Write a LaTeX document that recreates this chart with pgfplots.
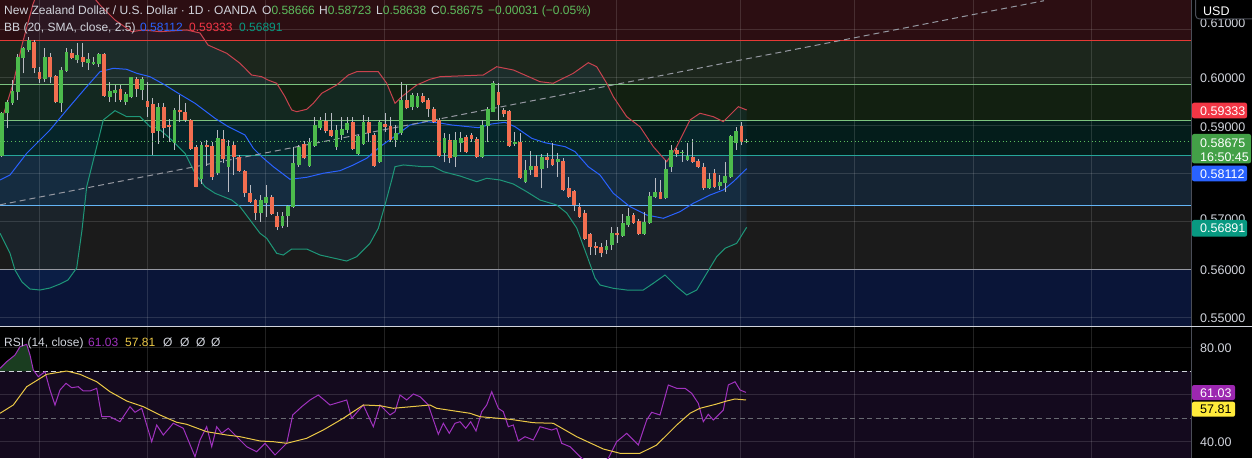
\documentclass[border=0pt]{standalone}
\usepackage{fontspec}
\setmainfont{Liberation Sans}
\usepackage{pgfplots}
\pgfplotsset{compat=1.18}
\usepackage{pgfplotstable}
\definecolor{zoneA}{HTML}{2C0E12}
\definecolor{zoneB}{HTML}{1C261C}
\definecolor{zoneC}{HTML}{122011}
\definecolor{zoneD}{HTML}{041D1B}
\definecolor{zoneE}{HTML}{152433}
\definecolor{zoneF}{HTML}{1B1B1B}
\definecolor{zoneG}{HTML}{0A1538}
\definecolor{rsibg}{HTML}{140A1E}
\definecolor{lnred}{HTML}{E53935}
\definecolor{lngreen}{HTML}{7CC47F}
\definecolor{lnteal}{HTML}{26A69A}
\definecolor{lnblue}{HTML}{64B5F6}
\definecolor{lngray}{HTML}{9598A1}
\definecolor{cgreen}{HTML}{4CBB4C}
\definecolor{cred}{HTML}{F26E50}
\definecolor{wick}{HTML}{B8BBC2}
\definecolor{bbup}{HTML}{C8424E}
\definecolor{bbmid}{HTML}{2962FF}
\definecolor{bblo}{HTML}{1E9678}
\definecolor{bbfill}{HTML}{2196F3}
\definecolor{lg}{HTML}{D1D4DC}
\definecolor{valg}{HTML}{5DBD5D}
\definecolor{boxred}{HTML}{F23645}
\definecolor{boxgreen}{HTML}{43A047}
\definecolor{boxblue}{HTML}{2962FF}
\definecolor{boxteal}{HTML}{089981}
\definecolor{boxpurple}{HTML}{9C27B0}
\definecolor{boxyellow}{HTML}{FFEB3B}
\definecolor{rsiline}{HTML}{A032BE}
\definecolor{rsima}{HTML}{EBC846}
\definecolor{obfill}{HTML}{1A3D20}
\definecolor{sep}{HTML}{4A4D57}

\pgfplotstableread{
I O H L C
0 0.58375 0.59298 0.58360 0.59265
1 0.59265 0.59542 0.58952 0.59506
2 0.59473 0.59958 0.59438 0.59735
3 0.59715 0.60494 0.59542 0.60444
4 0.60410 0.60652 0.60098 0.60619
5 0.60583 0.60860 0.60548 0.60792
8 0.59973 0.60619 0.59923 0.60444
11 0.59473 0.60235 0.59298 0.60167
12 0.60152 0.60619 0.60131 0.60548
14 0.60375 0.60723 0.60306 0.60479
16 0.60319 0.60515 0.60167 0.60390
17 0.60285 0.60444 0.60271 0.60340
18 0.60292 0.60515 0.60235 0.60494
20 0.59610 0.59923 0.59506 0.59729
21 0.59681 0.59854 0.59506 0.59750
23 0.59494 0.59715 0.59438 0.59667
24 0.59598 0.60027 0.59577 0.60015
26 0.59750 0.60015 0.59542 0.59973
29 0.58902 0.59485 0.58625 0.59402
32 0.58652 0.59369 0.58500 0.59333
37 0.57890 0.58673 0.57792 0.58604
40 0.58015 0.58917 0.57979 0.58744
42 0.58152 0.58708 0.57631 0.58583
48 0.57181 0.57563 0.57006 0.57458
49 0.57402 0.57771 0.57110 0.57527
52 0.56917 0.57215 0.56869 0.57125
53 0.57125 0.57354 0.56902 0.57333
54 0.57319 0.58569 0.57285 0.58223
55 0.58188 0.58604 0.58152 0.58569
57 0.58167 0.58744 0.58152 0.58673
58 0.58583 0.59194 0.58569 0.59021
59 0.58952 0.59194 0.58917 0.59125
62 0.58569 0.59021 0.58500 0.58917
63 0.58813 0.59194 0.58708 0.58938
64 0.58917 0.59194 0.58848 0.59056
66 0.58417 0.58813 0.58396 0.58792
67 0.58625 0.59229 0.58604 0.59090
70 0.58244 0.59125 0.58223 0.59090
73 0.58708 0.59021 0.58569 0.58860
74 0.58848 0.59923 0.58813 0.59542
76 0.59402 0.59681 0.59333 0.59646
77 0.59390 0.59681 0.59369 0.59625
82 0.58431 0.58848 0.58244 0.58756
84 0.58360 0.58869 0.58152 0.58708
85 0.58652 0.58869 0.58452 0.58744
89 0.58354 0.59125 0.58327 0.59021
90 0.59006 0.59402 0.58673 0.59348
91 0.59298 0.59938 0.59285 0.59890
95 0.58619 0.58881 0.58590 0.58660
97 0.57827 0.58292 0.57806 0.58083
98 0.58083 0.58479 0.57979 0.58173
100 0.58098 0.58410 0.57702 0.58360
103 0.58244 0.58431 0.57944 0.58313
112 0.56417 0.56625 0.56333 0.56500
113 0.56521 0.56902 0.56417 0.56777
115 0.56708 0.57167 0.56694 0.56985
116 0.56938 0.57285 0.56902 0.57125
119 0.56750 0.57215 0.56729 0.56994
120 0.56973 0.57631 0.56958 0.57542
121 0.57527 0.57910 0.57494 0.57625
123 0.57494 0.58292 0.57473 0.58098
124 0.58152 0.58604 0.58048 0.58500
126 0.58431 0.58500 0.58256 0.58465
127 0.58292 0.58640 0.58277 0.58375
131 0.57702 0.58015 0.57681 0.57890
133 0.57750 0.57979 0.57667 0.57840
134 0.57819 0.58256 0.57631 0.57958
135 0.57931 0.58813 0.57910 0.58792
136 0.58640 0.58985 0.58500 0.58902
138 0.58666 0.58723 0.58638 0.58675
}\greentab

\pgfplotstableread{
I O H L C
6 0.60756 0.60792 0.60098 0.60202
7 0.60131 0.60235 0.59890 0.59973
9 0.60431 0.60515 0.59890 0.60015
10 0.60042 0.60063 0.59473 0.59494
13 0.60527 0.60598 0.60390 0.60423
15 0.60431 0.60735 0.60235 0.60340
19 0.60500 0.60527 0.59610 0.59625
22 0.59765 0.59854 0.59506 0.59542
25 0.59979 0.60015 0.59610 0.59777
27 0.59527 0.59923 0.59194 0.59390
28 0.59452 0.59577 0.58396 0.58860
30 0.59390 0.59473 0.58744 0.58952
31 0.59021 0.59140 0.58673 0.58985
33 0.59333 0.59646 0.59090 0.59285
34 0.59298 0.59485 0.59090 0.59125
35 0.59125 0.59140 0.58500 0.58521
36 0.58556 0.58604 0.57723 0.57735
38 0.58604 0.58708 0.58167 0.58569
39 0.58583 0.58673 0.57875 0.57931
41 0.58723 0.58917 0.58223 0.58306
43 0.58604 0.58673 0.57979 0.58348
44 0.58348 0.58396 0.58048 0.58063
45 0.58063 0.58083 0.57527 0.57598
46 0.57598 0.57771 0.57390 0.57423
47 0.57458 0.57473 0.57042 0.57194
50 0.57527 0.57563 0.57146 0.57167
51 0.57125 0.57215 0.56833 0.56890
56 0.58625 0.58694 0.58306 0.58327
60 0.59110 0.59265 0.58848 0.58902
61 0.58917 0.59277 0.58777 0.58798
65 0.59077 0.59194 0.58500 0.58521
68 0.59077 0.59194 0.58673 0.58848
69 0.58813 0.58848 0.58152 0.58173
71 0.59042 0.59265 0.58881 0.58973
72 0.59000 0.59194 0.58673 0.58708
75 0.59542 0.59854 0.59348 0.59369
78 0.59625 0.59681 0.59473 0.59506
79 0.59542 0.59577 0.59194 0.59348
80 0.59348 0.59396 0.59063 0.59090
81 0.59125 0.59167 0.58354 0.58381
83 0.58708 0.58827 0.58223 0.58340
86 0.58777 0.58813 0.58431 0.58465
87 0.58813 0.58848 0.58673 0.58723
88 0.58729 0.58777 0.58327 0.58360
92 0.59702 0.59890 0.59125 0.59438
93 0.59333 0.59369 0.59194 0.59244
94 0.59313 0.59333 0.58569 0.58583
96 0.58660 0.58848 0.57896 0.57923
99 0.58173 0.58396 0.57927 0.57944
101 0.58360 0.58431 0.58119 0.58292
102 0.58313 0.58640 0.58173 0.58188
104 0.58271 0.58327 0.57646 0.57667
105 0.57715 0.57944 0.57506 0.57527
106 0.57646 0.57667 0.57229 0.57354
107 0.57319 0.57390 0.57090 0.57110
108 0.57188 0.57250 0.56625 0.56646
109 0.56750 0.56765 0.56313 0.56485
110 0.56500 0.56590 0.56313 0.56452
111 0.56485 0.56569 0.56265 0.56360
114 0.56765 0.56902 0.56569 0.56723
117 0.57140 0.57177 0.56958 0.56985
118 0.57021 0.57056 0.56729 0.56750
122 0.57625 0.57875 0.57473 0.57485
125 0.58500 0.58535 0.58360 0.58417
128 0.58360 0.58723 0.58235 0.58256
129 0.58271 0.58306 0.58119 0.58152
130 0.58152 0.58223 0.57667 0.57702
132 0.58015 0.58098 0.57702 0.57723
137 0.59000 0.59090 0.58604 0.58666
}\redtab

\begin{document}
\begin{tikzpicture}[x=1pt,y=1pt]
\path[use as bounding box, fill=black] (0,0) rectangle (1252,458);
% price zones
\fill[zoneA] (0,416.7) rectangle (1191,458);
\fill[zoneB] (0,373.7) rectangle (1191,416.7);
\fill[zoneC] (0,337.7) rectangle (1191,373.7);
\fill[zoneD] (0,302.7) rectangle (1191,337.7);
\fill[zoneE] (0,252.7) rectangle (1191,302.7);
\fill[zoneF] (0,188.7) rectangle (1191,252.7);
\fill[zoneG] (0,132) rectangle (1191,188.7);
% rsi band background
\fill[rsibg] (0,0) rectangle (1191,86.7);

\begin{axis}[
  at={(0pt,132pt)}, anchor=south west, scale only axis,
  width=1191pt, height=326pt,
  xmin=0, xmax=1191, ymin=0.548333, ymax=0.61625,
  axis line style={draw=none}, tick style={draw=none}, major tick length=0pt,
  xtick={39.3,147.7,265,384.3,498.3,616.7,740.7,854.3,973.3,1091.7},
  ytick={0.55,0.56,0.57,0.58,0.59,0.60,0.61},
  xticklabels={}, yticklabels={}, scaled y ticks=false,
  grid=major, major grid style={draw=white, draw opacity=0.13, line width=1pt},
  clip=true,
]
% Bollinger band background
\addplot[fill=bbfill, fill opacity=0.07, draw=none, forget plot] coordinates {
(1.7,0.59125)(8,0.59542)(13.3,0.59896)(22,0.60687)(33,0.61540)(34.9,0.61625)(95.2,0.61625)(100,0.61520)(115,0.61208)(131.7,0.60965)(143,0.61000)(160,0.60965)(186.7,0.61000)(200,0.60937)(208,0.60687)(226.7,0.60515)(240,0.60306)(245,0.60202)(251.7,0.60062)(261.7,0.60027)(268,0.59958)(276.7,0.59890)(285,0.59610)(291.7,0.59333)(296.7,0.59298)(306.7,0.59348)(313.3,0.59473)(321.7,0.59681)(336.7,0.59854)(348.3,0.60062)(356.7,0.60131)(378.3,0.60131)(386.7,0.59890)(395,0.59473)(401.7,0.59610)(416.7,0.59854)(430,0.59973)(440,0.60027)(483.3,0.60062)(496.7,0.60235)(513.3,0.60167)(540,0.59923)(553.3,0.59890)(573.3,0.60098)(588.3,0.60319)(596.7,0.60235)(606.7,0.59890)(613.3,0.59610)(626.7,0.59194)(640,0.58985)(653.3,0.58569)(666.7,0.58256)(676.7,0.58569)(690,0.59125)(700,0.59265)(713.3,0.59194)(723.3,0.59090)(730,0.59229)(738.3,0.59402)(746.7,0.59333)
(746.7,0.56891)(736.7,0.56556)(725,0.56452)(716.7,0.56277)(706.7,0.55931)(696.7,0.55583)(686.7,0.55479)(676.7,0.55652)(665,0.55896)(653.3,0.55723)(643.3,0.55583)(626.7,0.55583)(613.3,0.55619)(600,0.55687)(595,0.55833)(586.7,0.56312)(576.7,0.56875)(566.7,0.57187)(556.7,0.57354)(540,0.57458)(526.7,0.57631)(513.3,0.57792)(500,0.57875)(486.7,0.57910)(476.7,0.57840)(460,0.57958)(443.3,0.58048)(433.3,0.58152)(423.3,0.58152)(403.3,0.58188)(395,0.58152)(391.7,0.57875)(385,0.57354)(378.3,0.56869)(370,0.56556)(356.7,0.56277)(346.7,0.56187)(320,0.56312)(306.7,0.56437)(291.7,0.56437)(283.3,0.56312)(276.7,0.56348)(266.7,0.56660)(260,0.56765)(250,0.57042)(240,0.57319)(231.7,0.57458)(215,0.57598)(205,0.57735)(195,0.58015)(185,0.58431)(171.7,0.58708)(158.3,0.58952)(150,0.58985)(140,0.59194)(126.7,0.59194)(115,0.59319)(103.3,0.59125)(96.7,0.58569)(86.7,0.57735)(82,0.56833)(76.7,0.56042)(68,0.55792)(60,0.55708)(50,0.55625)(40,0.55583)(30,0.55604)(22,0.55750)(15,0.56000)(10,0.56348)(0,0.56765)(0,0.59000)};

% zone lines
\draw[lnred, line width=1pt] (0,0.60771) -- (1191,0.60771);
\draw[lngreen, line width=1pt] (0,0.59869) -- (1191,0.59869);
\draw[lngreen, line width=1pt] (0,0.59119) -- (1191,0.59119);
\draw[lnteal, line width=1pt] (0,0.58390) -- (1191,0.58390);
\draw[lnblue, line width=1pt] (0,0.57348) -- (1191,0.57348);
\draw[lngray, line width=1pt] (0,0.56015) -- (1191,0.56015);

% Bollinger bands
\addplot[bbup, line width=1pt, forget plot] coordinates {
(1.7,0.59125)(8,0.59542)(13.3,0.59896)(22,0.60687)(33,0.61540)(34.9,0.61640)(95.2,0.61640)(100,0.61520)(115,0.61208)(131.7,0.60965)(143,0.61000)(160,0.60965)(186.7,0.61000)(200,0.60937)(208,0.60687)(226.7,0.60515)(240,0.60306)(245,0.60202)(251.7,0.60062)(261.7,0.60027)(268,0.59958)(276.7,0.59890)(285,0.59610)(291.7,0.59333)(296.7,0.59298)(306.7,0.59348)(313.3,0.59473)(321.7,0.59681)(336.7,0.59854)(348.3,0.60062)(356.7,0.60131)(378.3,0.60131)(386.7,0.59890)(395,0.59473)(401.7,0.59610)(416.7,0.59854)(430,0.59973)(440,0.60027)(483.3,0.60062)(496.7,0.60235)(513.3,0.60167)(540,0.59923)(553.3,0.59890)(573.3,0.60098)(588.3,0.60319)(596.7,0.60235)(606.7,0.59890)(613.3,0.59610)(626.7,0.59194)(640,0.58985)(653.3,0.58569)(666.7,0.58256)(676.7,0.58569)(690,0.59125)(700,0.59265)(713.3,0.59194)(723.3,0.59090)(730,0.59229)(738.3,0.59402)(746.7,0.59333)};
\addplot[bblo, line width=1pt, forget plot] coordinates {
(0,0.56765)(10,0.56348)(15,0.56000)(22,0.55750)(30,0.55604)(40,0.55583)(50,0.55625)(60,0.55708)(68,0.55792)(76.7,0.56042)(82,0.56833)(86.7,0.57735)(96.7,0.58569)(103.3,0.59125)(115,0.59319)(126.7,0.59194)(140,0.59194)(150,0.58985)(158.3,0.58952)(171.7,0.58708)(185,0.58431)(195,0.58015)(205,0.57735)(215,0.57598)(231.7,0.57458)(240,0.57319)(250,0.57042)(260,0.56765)(266.7,0.56660)(276.7,0.56348)(283.3,0.56312)(291.7,0.56437)(306.7,0.56437)(320,0.56312)(346.7,0.56187)(356.7,0.56277)(370,0.56556)(378.3,0.56869)(385,0.57354)(391.7,0.57875)(395,0.58152)(403.3,0.58188)(423.3,0.58152)(433.3,0.58152)(443.3,0.58048)(460,0.57958)(476.7,0.57840)(486.7,0.57910)(500,0.57875)(513.3,0.57792)(526.7,0.57631)(540,0.57458)(556.7,0.57354)(566.7,0.57187)(576.7,0.56875)(586.7,0.56312)(595,0.55833)(600,0.55687)(613.3,0.55619)(626.7,0.55583)(643.3,0.55583)(653.3,0.55723)(665,0.55896)(676.7,0.55652)(686.7,0.55479)(696.7,0.55583)(706.7,0.55931)(716.7,0.56277)(725,0.56452)(736.7,0.56556)(746.7,0.56891)};
\addplot[bbmid, line width=1pt, forget plot] coordinates {
(0,0.57875)(10,0.57979)(26.7,0.58431)(50,0.58917)(66.7,0.59333)(86.7,0.59819)(100,0.60131)(113.3,0.60202)(126.7,0.60181)(136.7,0.60098)(150,0.60027)(165,0.59854)(178.3,0.59681)(195,0.59473)(215,0.59160)(228.3,0.58985)(245,0.58812)(253.3,0.58535)(261.7,0.58360)(273.3,0.58152)(290,0.57890)(306.7,0.57931)(323.3,0.58015)(340,0.58069)(353.3,0.58187)(366.7,0.58327)(380,0.58569)(396.7,0.58813)(410,0.59021)(426.7,0.59090)(440,0.59062)(451.7,0.59021)(478.3,0.58965)(491.7,0.59042)(505,0.59077)(515,0.58985)(531.7,0.58744)(545,0.58652)(565,0.58569)(575,0.58465)(588.3,0.58152)(600,0.57979)(613.3,0.57598)(630,0.57319)(646.7,0.57146)(663.3,0.57077)(680,0.57215)(693.3,0.57390)(710,0.57562)(723.3,0.57667)(733.3,0.57840)(746.7,0.58112)};

% trend line
\addplot[lngray, line width=1pt, dash pattern=on 6pt off 4pt, forget plot] coordinates {(0,0.57358)(1044,0.61610)};

% wicks (low to high)
\addplot[draw=wick, line width=1pt, mark=none, forget plot, quiver={u=0, v=\thisrow{H}-\thisrow{L}}]
  table[x expr=1.7+5.4*\thisrow{I}, y=L] {\greentab};
\addplot[draw=wick, line width=1pt, mark=none, forget plot, quiver={u=0, v=\thisrow{H}-\thisrow{L}}]
  table[x expr=1.7+5.4*\thisrow{I}, y=L] {\redtab};
% bodies (open to close)
\addplot[draw=cgreen, line width=3.8pt, mark=none, forget plot, quiver={u=0, v={max(\thisrow{C}-\thisrow{O},0.0002)}}]
  table[x expr=1.7+5.4*\thisrow{I}, y=O] {\greentab};
\addplot[draw=cred, line width=3.8pt, mark=none, forget plot, quiver={u=0, v={max(\thisrow{O}-\thisrow{C},0.0002)}}]
  table[x expr=1.7+5.4*\thisrow{I}, y=C] {\redtab};

% current price dotted line
\draw[valg, line width=1pt, dash pattern=on 1pt off 2.7pt] (0,0.58675) -- (1191,0.58675);
\end{axis}

\begin{axis}[
  at={(0pt,0pt)}, anchor=south west, scale only axis,
  width=1191pt, height=132pt,
  xmin=0, xmax=1191, ymin=33.2, ymax=89.21,
  axis line style={draw=none}, tick style={draw=none}, major tick length=0pt,
  xtick={39.3,147.7,265,384.3,498.3,616.7,740.7,854.3,973.3,1091.7},
  ytick={40,60,80},
  xticklabels={}, yticklabels={},
  grid=major, major grid style={draw=white, draw opacity=0.13, line width=1pt},
  clip=true,
]
\addplot[fill=obfill, draw=none, forget plot] coordinates {(0,70)(0,71.26)(6.7,74.06)(15,76.90)(20,80.42)(26.7,81.44)(30,76.90)(33.3,70.54)(33.6,70)};
\draw[lg, line width=1pt, dash pattern=on 5pt off 3.5pt] (0,70) -- (1191,70);
\draw[lngray!70!black, line width=1pt, dash pattern=on 5pt off 3.5pt] (0,50) -- (1191,50);
\addplot[rsiline, line width=1pt, forget plot] coordinates {
(0,71.26)(6.7,74.06)(15,76.90)(20,80.42)(26.7,81.44)(30,76.90)(33.3,70.54)(38.3,67.70)(45,69.82)(50,62.05)(55,55.69)(60,62.05)(66,64.90)(71.7,63.03)(78.3,63.45)(83.3,61.63)(90,61.63)(96.7,62.77)(101.7,50.73)(110,50.73)(120,48.60)(130,54.97)(135,52.59)(141.7,54.29)(151.7,40.12)(156.7,47.20)(163.3,42.96)(173.3,47.93)(183.3,45.80)(195,33.75)(200,40.84)(206.7,46.48)(211.7,38.00)(216.7,46.48)(221.7,43.68)(228.3,45.80)(240,40.84)(246.7,38.00)(256.7,35.88)(265,39.44)(275,34.48)(286.7,39.44)(292.7,51.45)(301.7,54.97)(310,57.81)(318.3,59.93)(330,55.69)(346.7,57.81)(351.7,50.05)(363.3,55.69)(373.3,46.48)(380,55.69)(390,51.45)(395,52.85)(400,59.93)(406.7,57.81)(413.3,60.36)(420,59.21)(428.3,55.69)(438.3,43.26)(443.3,47.93)(449.3,43.68)(455,47.93)(460,48.60)(465.7,45.80)(470.7,48.60)(476,44.66)(481.7,52.85)(486.7,55.69)(491.7,61.33)(498.3,54.29)(503.3,52.85)(508.3,46.48)(513.3,47.20)(518.3,40.42)(525,42.24)(533.3,40.84)(540,46.48)(551.7,45.08)(556.7,45.80)(561.7,39.44)(570,38.00)(580,33.75)(586.7,31.51)(597,29.81)(608.3,33.08)(616.7,40.12)(626.7,43.68)(638.3,38.72)(646.7,49.33)(651.7,52.59)(660,51.45)(668.3,64.17)(676.7,62.77)(685,62.77)(691.7,60.65)(698.3,56.41)(703.3,48.60)(708.3,51.74)(713.3,49.33)(723.3,53.57)(728.3,64.17)(735,65.57)(740,62.05)(746,61.03)};
\addplot[rsima, line width=1pt, forget plot] coordinates {
(0,52.17)(13.3,55.69)(26.7,63.45)(46.7,68.71)(66.7,70.11)(80,68.71)(96.7,65.57)(110,61.33)(126.7,57.39)(143.3,54.97)(160,51.45)(176.7,48.35)(186.7,47.50)(206.7,44.36)(226.7,42.96)(240,42.24)(260,40.42)(273.3,40.12)(286.7,39.44)(306.7,41.56)(323.3,45.08)(343.3,50.05)(363.3,55.69)(380,55.39)(393.3,54.29)(430,55.69)(436.7,54.29)(470,52.17)(480,50.73)(510,49.62)(533.3,48.18)(553.3,47.93)(576.7,42.24)(603.3,37.02)(620,35.20)(640,35.20)(656.7,38.72)(676.7,47.20)(690,52.17)(700,54.29)(716.7,56.11)(726.7,57.39)(735,58.24)(746,57.81)};
\end{axis}

% separators
\draw[sep, line width=1pt] (1191.5,0) -- (1191.5,458);
\draw[lg, line width=1pt] (0,132) -- (1252,132);

% legend texts
\begin{scope}[every node/.style={inner sep=0pt, anchor=base west, font=\fontsize{12}{14}\selectfont, text=lg}]
\node at (4,443.7) {New Zealand Dollar / U.S. Dollar · 1D · OANDA};
\node at (262,443.7) {O\textcolor{valg}{0.58666}};
\node at (319,443.7) {H\textcolor{valg}{0.58723}};
\node at (376,443.7) {L\textcolor{valg}{0.58638}};
\node at (431,443.7) {C\textcolor{valg}{0.58675}};
\node at (488,443.7) {\textcolor{valg}{−0.00031 (−0.05\%)}};
\node at (4,426.7) {BB (20, SMA, close, 2.5)};
\node at (140,426.7) {\textcolor{bbmid}{0.58112}};
\node at (189,426.7) {\textcolor{boxred}{0.59333}};
\node at (239,426.7) {\textcolor{boxteal}{0.56891}};
\node at (4,112) {RSI (14, close)};
\node at (88,112) {\textcolor{rsiline}{61.03}};
\node at (125,112) {\textcolor{rsima}{57.81}};
\node at (163,112) {Ø};
\node at (180,112) {Ø};
\node at (196,112) {Ø};
\node at (211,112) {Ø};
\end{scope}

% right scale
\begin{scope}[every node/.style={inner sep=0pt, anchor=base west, font=\fontsize{12.5}{14}\selectfont, text=lg}]
\node at (1200,430.4) {0.61000};
\node at (1200,375.1) {0.60000};
\node at (1200,326.7) {0.59000};
\node at (1200,279.1) {0.58000};
\node at (1200,234.1) {0.57000};
\node at (1200,183.4) {0.56000};
\node at (1200,135.1) {0.55000};
\node at (1200,105.7) {80.00};
\node at (1200,11.4) {40.00};
\fill[black, draw=sep, rounded corners=4pt, line width=1pt] (1195.5,439) rectangle (1260,462);
\node[text=white] at (1203,442.2) {USD};
\fill[boxred, rounded corners=2pt] (1192,339.7) rectangle (1247,355.3);
\node[text=white] at (1200,342.9) {0.59333};
\fill[boxgreen, rounded corners=2pt] (1192,294.7) rectangle (1251,324);
\node[text=white] at (1200,310.7) {0.58675};
\node[text=white] at (1200,296.4) {16:50:45};
\fill[boxblue, rounded corners=2pt] (1192,276.7) rectangle (1247,292.3);
\node[text=white] at (1200,279.9) {0.58112};
\fill[boxteal, rounded corners=2pt] (1192,221.3) rectangle (1247,238);
\node[text=white] at (1200,225.1) {0.56891};
\fill[boxpurple, rounded corners=2pt] (1192,58) rectangle (1235,73);
\node[text=white] at (1200,60.9) {61.03};
\fill[boxyellow, rounded corners=2pt] (1192,41.3) rectangle (1235,56.3);
\node[text=black] at (1200,44.2) {57.81};
\end{scope}
\end{tikzpicture}
\end{document}
